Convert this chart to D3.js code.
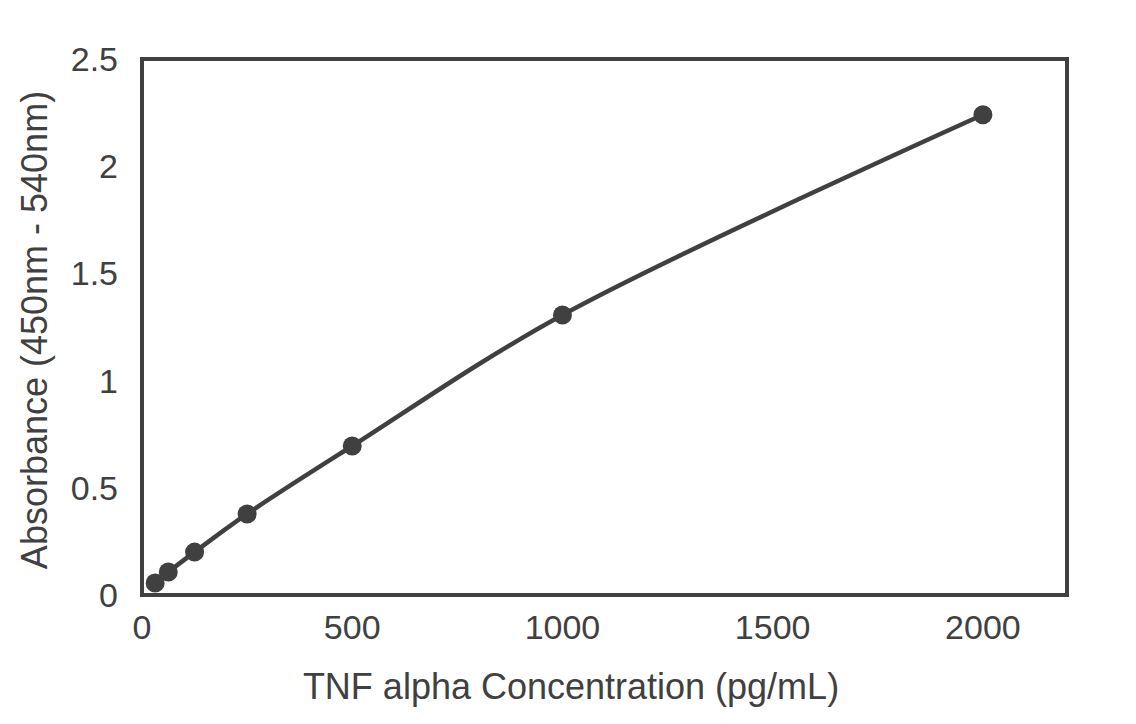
<!DOCTYPE html>
<html>
<head>
<meta charset="utf-8">
<script src="https://cdn.jsdelivr.net/npm/d3@7.9.0/dist/d3.min.js"></script>
<style>
  body { margin: 0; background: #fff; }
  svg { display: block; font-family: "Liberation Sans", Arial, Helvetica, sans-serif; }
</style>
</head>
<body>
<div id="chart"></div>
<script>
// standard curve values
const concentrations = [31.25, 62.5, 125, 250, 500, 1000, 2000];
const absorbances = [0.056, 0.107, 0.2, 0.378, 0.695, 1.306, 2.24];
const xTicks = [0, 500, 1000, 1500, 2000];
const yTicks = [0, 0.5, 1, 1.5, 2, 2.5];

const width = 1136;
const height = 724;
const margin = { top: 59, right: 69, bottom: 129, left: 142 };
const ink = "#404040";

const svg = d3.select("#chart").append("svg")
  .attr("width", width)
  .attr("height", height);

const x = d3.scaleLinear().domain([0, 2200]).range([margin.left, width - margin.right]);
const y = d3.scaleLinear().domain([0, 2.5]).range([height - margin.bottom, margin.top]);

// tick labels
svg.append("g")
  .selectAll("text")
  .data(xTicks)
  .enter().append("text")
  .attr("x", d => x(d))
  .attr("y", y(0) + 44)
  .attr("text-anchor", "middle")
  .attr("font-size", 34)
  .attr("fill", ink)
  .text(d => d);

svg.append("g")
  .selectAll("text")
  .data(yTicks)
  .enter().append("text")
  .attr("x", margin.left - 24)
  .attr("y", d => y(d))
  .attr("dy", "0.35em")
  .attr("text-anchor", "end")
  .attr("font-size", 34)
  .attr("fill", ink)
  .text(d => d);

// frame
svg.append("rect")
  .attr("x", x(0))
  .attr("y", y(2.5))
  .attr("width", x(2200) - x(0))
  .attr("height", y(0) - y(2.5))
  .attr("fill", "none")
  .attr("stroke", ink)
  .attr("stroke-width", 4);

// smoothed line
const points = concentrations.map((c, i) => [c, absorbances[i]]);
const line = d3.line()
  .x(d => x(d[0]))
  .y(d => y(d[1]))
  .curve(d3.curveCatmullRom.alpha(0.5));

svg.append("path")
  .datum(points)
  .attr("d", line)
  .attr("fill", "none")
  .attr("stroke", ink)
  .attr("stroke-width", 4.5)
  .attr("stroke-linecap", "round");

svg.append("g")
  .selectAll("circle")
  .data(points)
  .enter().append("circle")
  .attr("cx", d => x(d[0]))
  .attr("cy", d => y(d[1]))
  .attr("r", 9.5)
  .attr("fill", ink);

// axis titles
svg.append("text")
  .attr("x", 571)
  .attr("y", 699)
  .attr("text-anchor", "middle")
  .attr("font-size", 36)
  .attr("fill", ink)
  .text("TNF alpha Concentration (pg/mL)");

svg.append("text")
  .attr("transform", `translate(47, 330) rotate(-90)`)
  .attr("text-anchor", "middle")
  .attr("font-size", 36)
  .attr("fill", ink)
  .text("Absorbance (450nm - 540nm)");
</script>
</body>
</html>
